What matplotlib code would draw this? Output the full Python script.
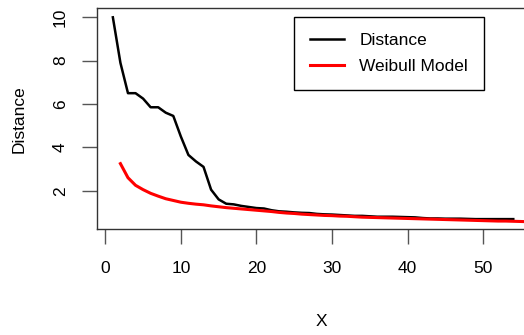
import numpy as np
import matplotlib
matplotlib.use("Agg")
import matplotlib.pyplot as plt

plt.rcParams['font.family'] = ['Liberation Sans', 'DejaVu Sans']

# observed distance per x
x_dist = list(range(1, 55))
distance = [10.0, 7.9, 6.5, 6.5, 6.25, 5.85, 5.85, 5.6, 5.45, 4.5,
            3.65, 3.35, 3.1, 2.05, 1.6, 1.4, 1.37, 1.3, 1.25, 1.2,
            1.18, 1.1, 1.05, 1.03, 1.0, 0.98, 0.97, 0.93, 0.91, 0.9,
            0.88, 0.86, 0.84, 0.84, 0.82, 0.8, 0.8, 0.8, 0.79, 0.78,
            0.77, 0.74, 0.72, 0.72, 0.71, 0.71, 0.71, 0.7, 0.69, 0.69,
            0.69, 0.69, 0.69, 0.69]

# fitted weibull curve
x_model = list(range(2, 57))
weibull = [3.25, 2.6, 2.25, 2.05, 1.88, 1.75, 1.63, 1.55, 1.47, 1.42,
           1.38, 1.35, 1.3, 1.26, 1.22, 1.19, 1.16, 1.13, 1.1, 1.07,
           1.04, 1.0, 0.97, 0.95, 0.92, 0.9, 0.88, 0.86, 0.85, 0.83,
           0.82, 0.8, 0.78, 0.77, 0.76, 0.75, 0.74, 0.73, 0.72, 0.71,
           0.7, 0.69, 0.68, 0.67, 0.66, 0.65, 0.64, 0.63, 0.62, 0.61,
           0.6, 0.6, 0.59, 0.58, 0.57]

W, H = 524, 335
fig = plt.figure(figsize=(W / 100, H / 100), dpi=100)
ax = fig.add_axes([97 / W, 1 - 229.3 / H, (545 - 97) / W, (229.3 - 8) / H])

ax.plot(x_dist, distance, color='black', lw=1.8, label='Distance')
ax.plot(x_model, weibull, color='red', lw=2.2, label='Weibull Model')

ax.set_xlim(-1.1, 58.2)
ax.set_ylim(0.22, 10.43)
ax.set_xticks([0, 10, 20, 30, 40, 50])
ax.set_yticks([2, 4, 6, 8, 10])
for s in ax.spines.values():
    s.set_linewidth(1.0)
    s.set_color('#333333')
ax.tick_params(length=11, width=1.0, color='#555555', labelsize=12.5, pad=12)
ax.tick_params(axis='y', labelrotation=90, pad=10)
for lab in ax.get_yticklabels():
    lab.set_va('center')

ax.set_xlabel('X', fontsize=12.5, labelpad=27)
ax.set_ylabel('Distance', fontsize=12.5, labelpad=19)

leg = ax.legend(loc='upper left', bbox_to_anchor=(294 / W, 1 - 16.7 / H),
                bbox_transform=fig.transFigure, borderaxespad=0,
                fancybox=False, edgecolor='black', framealpha=1,
                fontsize=12.5, handlelength=1.95, handletextpad=0.9,
                borderpad=0.92, labelspacing=0.65)
leg.get_frame().set_linewidth(1.0)

fig.savefig('out.png', dpi=100)
